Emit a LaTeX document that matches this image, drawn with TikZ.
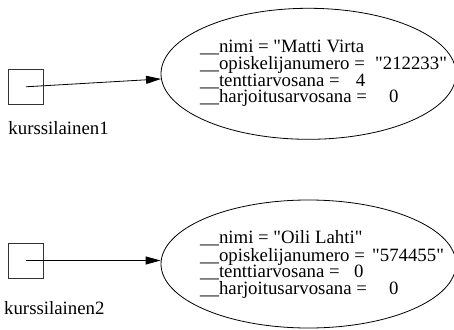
\documentclass[tikz,border=0pt]{standalone}
\usepackage{fontspec}
% straight quotes: no TeX ligature mapping
\setmainfont{Liberation Serif}[Ligatures=TeXOff]
\usetikzlibrary{shapes.geometric,arrows.meta}
\begin{document}
\begin{tikzpicture}[x=1pt,y=1pt,
  refbox/.style={draw=black!80,line width=0.7pt,minimum size=35pt,inner sep=0pt},
  objell/.style={draw,ellipse,line width=0.8pt,minimum width=295pt,inner sep=0pt},
  txt/.style={anchor=base west,inner sep=0pt,font=\fontsize{18.8}{18.8}\selectfont},
  refarrow/.style={-{Triangle[length=15pt,width=8pt]},line width=0.8pt}]
\useasboundingbox (0,0) rectangle (454,329);

% first object and its reference
\node[refbox] (b1) at (25.8,242.2) {};
\node[txt] (l1) at (8.3,194) {kurssilainen1};
\node[objell,minimum height=131pt] (e1) at (308.5,255.2) {};
\node[txt] (e1k1) at (200,276) {\_\_nimi = "Matti Virta};
\node[txt] (e1k2) at (200,259) {\_\_opiskelijanumero =};
\node[txt] (e1v2) at (375,259) {"212233"};
\node[txt] (e1k3) at (200,242.5) {\_\_tenttiarvosana =};
\node[txt] (e1v3) at (355.7,242.5) {4};
\node[txt] (e1k4) at (200,226) {\_\_harjoitusarvosana =};
\node[txt] (e1v4) at (389,226) {0};
\draw[refarrow] (b1.center) -- (e1.182);

% second object and its reference
\node[refbox] (b2) at (25.8,68.5) {};
\node[txt] (l2) at (4,15) {kurssilainen2};
\node[objell,minimum height=128pt] (e2) at (308.5,65) {};
\node[txt] (e2k1) at (200,85) {\_\_nimi = "Oili Lahti"};
\node[txt] (e2k2) at (200,68) {\_\_opiskelijanumero =};
\node[txt] (e2v2) at (372,68) {"574455"};
\node[txt] (e2k3) at (200,52) {\_\_tenttiarvosana =};
\node[txt] (e2v3) at (354,52) {0};
\node[txt] (e2k4) at (200,35) {\_\_harjoitusarvosana =};
\node[txt] (e2v4) at (389,35) {0};
\draw[refarrow] (b2.center) -- (b2.center -| e2.west);
\end{tikzpicture}
\end{document}
